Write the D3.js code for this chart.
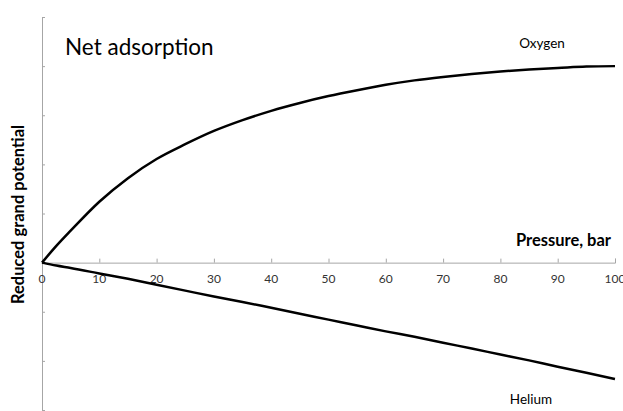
<!DOCTYPE html>
<html>
<head>
<meta charset="utf-8">
<script src="https://cdn.jsdelivr.net/npm/d3@7"></script>
<style>
  body { margin: 0; background: #fff; }
  text { font-family: Lato, "Open Sans", sans-serif; }
</style>
</head>
<body>
<div id="vis"></div>
<script>
const width = 623;
const height = 411;

// pressure, bar
const pressure = [0, 2.5, 5, 10, 15, 20, 25, 30, 35, 40, 45, 50, 55, 60, 65, 70, 75, 80, 85, 90, 95, 100];
// reduced grand potential
const oxygen = [0, 0.34, 0.65, 1.24, 1.72, 2.11, 2.41, 2.68, 2.90, 3.09, 3.25, 3.39, 3.51, 3.62, 3.71, 3.78, 3.84, 3.89, 3.93, 3.96, 3.99, 4.00];
const helium = [0, -0.06, -0.11, -0.22, -0.33, -0.45, -0.57, -0.69, -0.80, -0.92, -1.04, -1.16, -1.28, -1.40, -1.51, -1.63, -1.75, -1.87, -1.99, -2.12, -2.24, -2.37];
const xTicks = [0, 10, 20, 30, 40, 50, 60, 70, 80, 90, 100];
const yTicks = [-3, -2, -1, 0, 1, 2, 3, 4, 5];

const margin = {left: 42, right: 8, top: 17, bottom: 1};

const x = d3.scaleLinear().domain([0, 100]).range([margin.left, width - margin.right]);
const y = d3.scaleLinear().domain([-3, 5]).range([height - margin.bottom, margin.top]);

const svg = d3.select('#vis')
    .append('svg')
    .attr('width', width)
    .attr('height', height);

// y axis, ticks pointing right
const yAxis = svg.append('g')
    .attr('transform', `translate(${x(0)},0)`)
    .call(d3.axisRight(y).tickValues(yTicks).tickSize(3).tickFormat(''));
yAxis.select('.domain').attr('stroke', '#a6a6a6');
yAxis.selectAll('.tick line').attr('stroke', '#a6a6a6');

// x axis through zero, ticks pointing up
const xAxis = svg.append('g')
    .attr('transform', `translate(0,${y(0)})`)
    .call(d3.axisTop(x).tickValues(xTicks).tickSize(4).tickFormat(''));
xAxis.select('.domain').attr('stroke', '#a6a6a6');
xAxis.selectAll('.tick line').attr('stroke', '#a6a6a6');

svg.append('g')
    .selectAll('text')
    .data(xTicks)
    .join('text')
    .attr('x', d => x(d))
    .attr('y', y(0) + 20)
    .attr('text-anchor', 'middle')
    .style('font-size', '12px')
    .style('fill', '#333')
    .text(d => d);

const line = d3.line()
    .x((d, i) => x(pressure[i]))
    .y(d => y(d))
    .curve(d3.curveMonotoneX);

[oxygen, helium].forEach(s => {
    svg.append('path')
        .datum(s)
        .attr('d', line)
        .attr('fill', 'none')
        .attr('stroke', '#000')
        .attr('stroke-width', 2.5);
});

// title and labels
svg.append('text')
    .attr('x', 65)
    .attr('y', 55)
    .style('font-size', '22.5px')
    .text('Net adsorption');

svg.append('text')
    .attr('x', 611)
    .attr('y', 246)
    .attr('text-anchor', 'end')
    .style('font-size', '16.5px')
    .style('font-weight', 'bold')
    .text('Pressure, bar');

svg.append('text')
    .attr('transform', `translate(24,${y(0.98)}) rotate(-90)`)
    .attr('text-anchor', 'middle')
    .style('font-size', '16.5px')
    .style('font-weight', 'bold')
    .text('Reduced grand potential');

svg.append('text')
    .attr('x', 542)
    .attr('y', 48)
    .attr('text-anchor', 'middle')
    .style('font-size', '13.5px')
    .text('Oxygen');

svg.append('text')
    .attr('x', 531)
    .attr('y', 404)
    .attr('text-anchor', 'middle')
    .style('font-size', '13.5px')
    .text('Helium');
</script>
</body>
</html>
